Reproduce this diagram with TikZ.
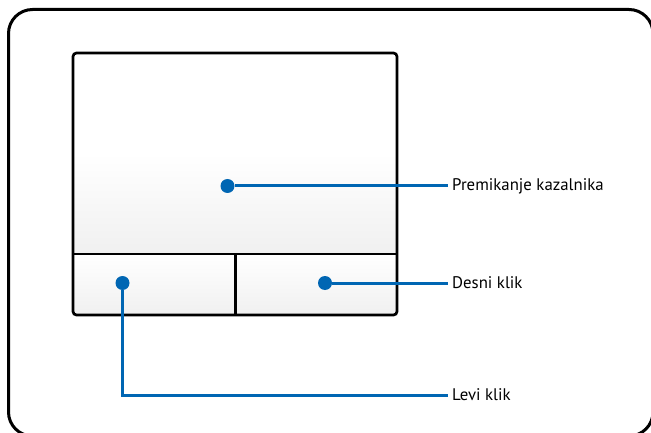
\documentclass[tikz,border=0pt]{standalone}
\usepackage{fontspec}
\setmainfont{PT Sans}
\definecolor{padblue}{HTML}{0066B3}
\definecolor{padgray}{HTML}{F0F0F0}
\tikzset{
  dot/.style={circle, fill=padblue, inner sep=0pt, minimum size=14pt},
  lead/.style={padblue, line width=3pt},
  lbl/.style={anchor=west, inner ysep=0pt, inner xsep=4pt, font=\fontsize{16.8}{19}\selectfont},
  part/.style={top color=white, bottom color=padgray},
  edge/.style={line width=2.7pt},
}
\begin{document}
\begin{tikzpicture}[x=1pt, y=-1pt]
    \useasboundingbox (0,0) rectangle (651,433);
    % outer frame
    \draw[line width=3pt, rounded corners=24pt] (8.5,9.5) rectangle (653,436);
    % touchpad and buttons
    \fill[part, middle color=white] (73,53) rectangle (397,254);
    \fill[part] (73,254) rectangle (397,315);
    \draw[edge] (73,254) -- (397,254);
    \draw[edge] (235.5,254) -- (235.5,315);
    \draw[edge, rounded corners=3.5pt] (73,53) rectangle (397,315);
    % dots and labels
    \node[dot] (pad) at (227.5,186) {};
    \node[dot] (left) at (122.5,283) {};
    \node[dot] (right) at (325,283) {};
    \node[lbl] (padlbl) at (448,186) {Premikanje kazalnika};
    \node[lbl] (rightlbl) at (448,283) {Desni klik};
    \node[lbl] (leftlbl) at (448,395) {Levi klik};
    \coordinate (bend) at (122.5,395);
    \draw[lead] (pad) -- (padlbl.west);
    \draw[lead] (right) -- (rightlbl.west);
    \draw[lead] (left) -- (bend) -- (leftlbl.west);
\end{tikzpicture}
\end{document}
